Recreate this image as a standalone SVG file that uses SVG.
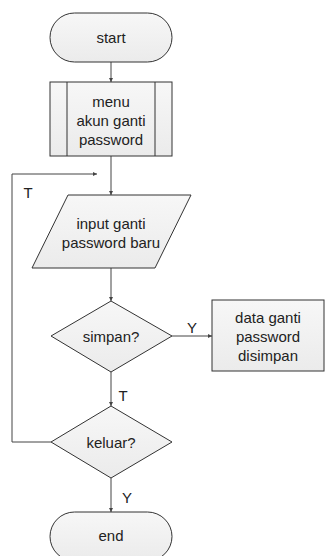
<svg xmlns="http://www.w3.org/2000/svg" width="326" height="556" viewBox="0 0 326 556">
  <style>
    .shape { fill: url(#fillGrad); stroke: #333; stroke-width: 1; }
    .inner { stroke: #333; stroke-width: 1; fill: none; }
    .label { font-family: "Liberation Sans", Arial, sans-serif; font-size: 15px; fill: #222; text-anchor: middle; dominant-baseline: central; }
    .conn { stroke: #444; stroke-width: 1; fill: none; marker-end: url(#arrow); }
  </style>
  <defs>
    <linearGradient id="fillGrad" x1="0" y1="0" x2="0" y2="1">
      <stop offset="0" stop-color="#f7f7f7"/>
      <stop offset="1" stop-color="#ebebeb"/>
    </linearGradient>
    <marker id="arrow" viewBox="0 0 6 6" refX="6" refY="3" markerWidth="4" markerHeight="4" orient="auto" markerUnits="userSpaceOnUse">
      <path d="M0,0 L6,3 L0,6 z" fill="#444"/>
    </marker>
  </defs>

  <!-- connectors and their labels -->
  <g id="connectors">
    <line class="conn" x1="111" y1="62" x2="111" y2="82"/>
    <line class="conn" x1="111" y1="156" x2="111" y2="195"/>
    <line class="conn" x1="111" y1="268" x2="111" y2="301"/>
    <line class="conn" x1="172" y1="336" x2="212" y2="336"/>
    <line class="conn" x1="111" y1="372" x2="111" y2="406"/>
    <polyline class="conn" points="51,442 12,442 12,174 97,174"/>
    <line class="conn" x1="111" y1="478" x2="111" y2="512"/>
    <text class="label" x="192" y="327">Y</text>
    <text class="label" x="123" y="395">T</text>
    <text class="label" x="28" y="192">T</text>
    <text class="label" x="127" y="497">Y</text>
  </g>

  <g id="start">
    <rect class="shape" x="50" y="13" width="122" height="49" rx="24.5" ry="24.5"/>
    <text class="label" x="111" y="37.5">start</text>
  </g>

  <g id="menu">
    <rect class="shape" x="50" y="82" width="122" height="74"/>
    <line class="inner" x1="67" y1="82" x2="67" y2="156"/>
    <line class="inner" x1="155" y1="82" x2="155" y2="156"/>
    <text class="label" x="111" y="101">menu</text>
    <text class="label" x="111" y="120">akun ganti</text>
    <text class="label" x="111" y="139">password</text>
  </g>

  <g id="input">
    <polygon class="shape" points="68,195 191,195 155,268 32,268"/>
    <text class="label" x="111" y="223">input ganti</text>
    <text class="label" x="111" y="242">password baru</text>
  </g>

  <g id="simpan">
    <polygon class="shape" points="111,301 172,336 111,372 51,336"/>
    <text class="label" x="111" y="336">simpan?</text>
  </g>

  <g id="disimpan">
    <rect class="shape" x="212" y="300" width="112" height="71"/>
    <text class="label" x="268" y="317">data ganti</text>
    <text class="label" x="268" y="336">password</text>
    <text class="label" x="268" y="355">disimpan</text>
  </g>

  <g id="keluar">
    <polygon class="shape" points="111,406 172,442 111,478 51,442"/>
    <text class="label" x="111" y="442">keluar?</text>
  </g>

  <g id="end">
    <rect class="shape" x="50" y="512" width="122" height="49" rx="24.5" ry="24.5"/>
    <text class="label" x="111" y="535">end</text>
  </g>
</svg>
